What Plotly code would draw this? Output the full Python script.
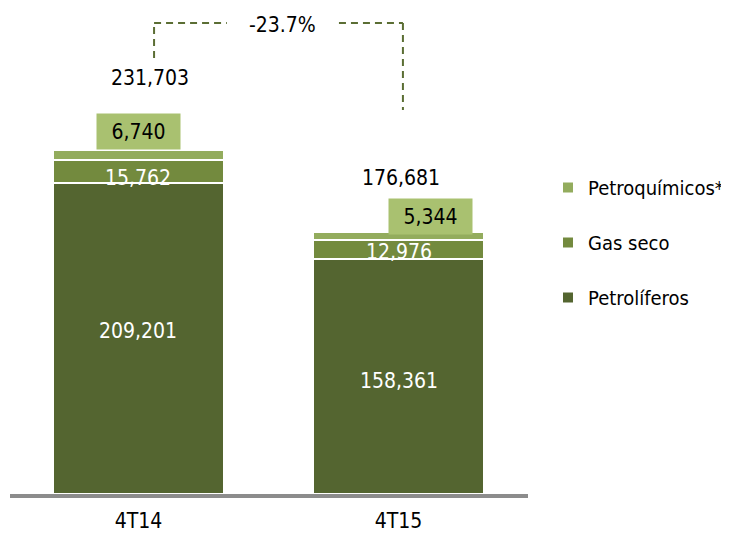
import plotly.graph_objects as go

# ---- data ----
categories = ["4T14", "4T15"]
petroliferos = [209201, 158361]
gas_seco = [15762, 12976]
petroquimicos = [6740, 5344]
series_names = ["Petrolíferos", "Gas seco", "Petroquímicos*"]

# ---- styles ----
colors = {"Petrolíferos": "#546530", "Gas seco": "#738a3e", "Petroquímicos*": "#93ac5d"}
legend_rank = {"Petrolíferos": 3, "Gas seco": 2, "Petroquímicos*": 1}
box_color = "#a9c170"
dash_color = "#5b6e34"
FONT = "DejaVu Sans Condensed, Liberation Sans, sans-serif"
FS = 21

totals = [a + b + c for a, b, c in zip(petroliferos, gas_seco, petroquimicos)]
change = (totals[1] / totals[0] - 1) * 100

fig = go.Figure()
for name, vals in zip(series_names, [petroliferos, gas_seco, petroquimicos]):
    fig.add_trace(go.Bar(
        x=categories, y=vals, name=name, legendgroup=name, legendrank=legend_rank[name],
        marker=dict(color=colors[name], line=dict(color="white", width=2)),
        hoverinfo="skip",
    ))

# label offsets (pixels) per bar
total_shift = [(12, 72), (2, 54)]
box_shift = [(0, 18), (32, 15)]
gas_shift = [(0, -6), (0, -3)]
pet_shift = [(0, 8), (0, -5)]

ann = []
for i, cat in enumerate(categories):
    ann.append(dict(x=i, y=totals[i], text=f"{totals[i]:,}", showarrow=False,
                    xshift=total_shift[i][0], yshift=total_shift[i][1],
                    font=dict(color="black", size=FS, family=FONT)))
    ann.append(dict(x=i, y=totals[i], text=f"{petroquimicos[i]:,}", showarrow=False,
                    xshift=box_shift[i][0], yshift=box_shift[i][1],
                    bgcolor=box_color, width=83, height=35, borderpad=0,
                    font=dict(color="black", size=FS, family=FONT)))
    ann.append(dict(x=i, y=petroliferos[i] + gas_seco[i] / 2, text=f"{gas_seco[i]:,}",
                    showarrow=False, xshift=gas_shift[i][0], yshift=gas_shift[i][1],
                    font=dict(color="white", size=FS, family=FONT)))
    ann.append(dict(x=i, y=petroliferos[i] / 2, text=f"{petroliferos[i]:,}",
                    showarrow=False, xshift=pet_shift[i][0], yshift=pet_shift[i][1],
                    font=dict(color="white", size=FS, family=FONT)))

# bracket (layout positions)
bx_left, bx_gap_l, bx_gap_r, bx_right = 0.06, 0.34, 0.771, 1.017
by_top, by_left_bot, by_right_bot = 0.9937, 0.92, 0.81
ann.append(dict(x=(bx_gap_l + bx_gap_r) / 2, y=by_top, xref="x", yref="paper",
                yanchor="middle", yshift=-2,
                text=f"{change:.1f}%", showarrow=False,
                font=dict(color="black", size=FS, family=FONT)))

line = dict(color=dash_color, width=2, dash="7px,5px")
shapes = [
    dict(type="line", xref="x", yref="paper", x0=bx_left, x1=bx_left, y0=by_left_bot, y1=by_top, line=line),
    dict(type="line", xref="x", yref="paper", x0=bx_left, x1=bx_gap_l, y0=by_top, y1=by_top, line=line),
    dict(type="line", xref="x", yref="paper", x0=bx_gap_r, x1=bx_right, y0=by_top, y1=by_top, line=line),
    dict(type="line", xref="x", yref="paper", x0=bx_right, x1=bx_right, y0=by_top, y1=by_right_bot, line=line),
]

# page has an 8px body margin, so the figure is 8px smaller than the window
fig.update_layout(
    width=721, height=530,
    margin=dict(l=2, r=201, t=12, b=44, autoexpand=False),
    paper_bgcolor="white", plot_bgcolor="white",
    barmode="stack", bargap=0.342,
    font=dict(family=FONT, size=FS, color="black"),
    annotations=ann, shapes=shapes,
    showlegend=True,
    legend=dict(x=1.0386, xanchor="left", y=0.688, yanchor="top",
                traceorder="grouped", tracegroupgap=26,
                font=dict(size=20, family=FONT, color="black"),
                itemwidth=30, bgcolor="rgba(0,0,0,0)"),
    xaxis=dict(type="category", range=[-0.494, 1.498], showgrid=False, zeroline=False,
               showline=True, linecolor="#8c8c8c", linewidth=4,
               ticks="", ticklabelstandoff=5,
               tickfont=dict(size=FS, family=FONT, color="black")),
    yaxis=dict(range=[0, 319200], visible=False, showgrid=False, zeroline=False),
)

fig.write_html("out.html")
